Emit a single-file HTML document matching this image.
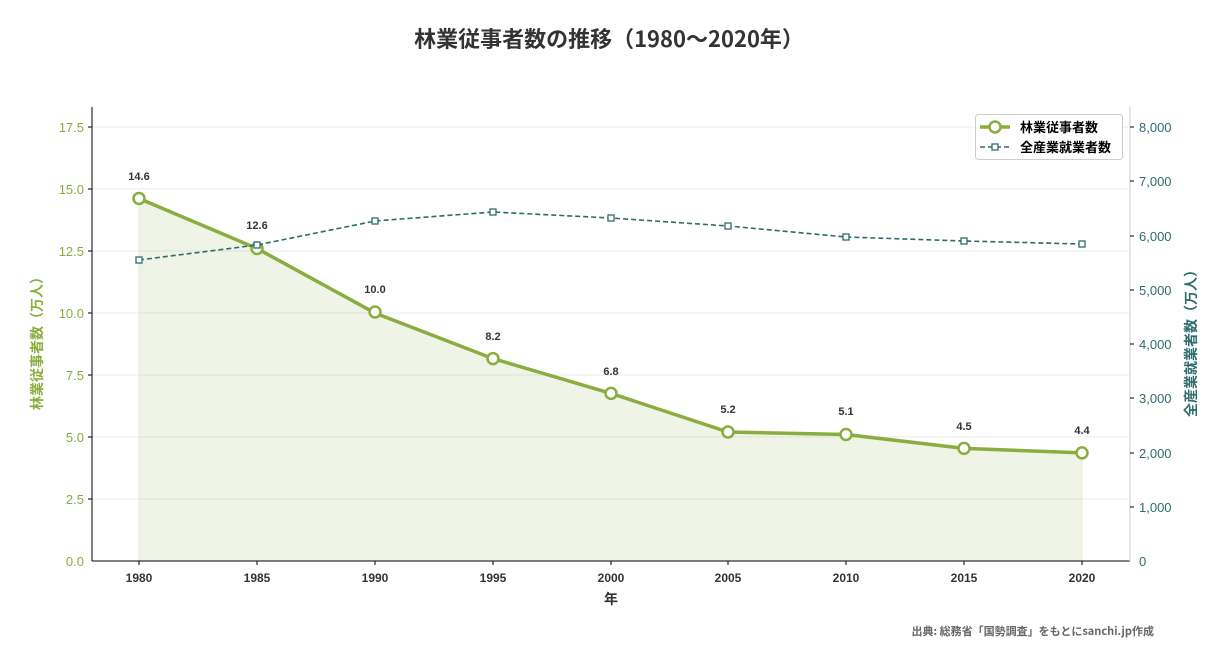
<!DOCTYPE html>
<html><head><meta charset="utf-8"><style>body{margin:0;background:#fff}svg{display:block}text{font-family:"Liberation Sans","Noto Sans CJK JP",sans-serif}.cj{font-family:"Noto Sans CJK JP",sans-serif}</style></head><body>
<svg width="1230" height="667" viewBox="0 0 1230 667" xmlns="http://www.w3.org/2000/svg">
<text class="cj" x="609" y="47" text-anchor="middle" font-size="22" font-weight="bold" fill="#333">林業従事者数の推移（1980〜2020年）</text>
<g stroke="#ebebeb" stroke-width="1">
<line x1="92" x2="1130" y1="127" y2="127"/><line x1="92" x2="1130" y1="189" y2="189"/><line x1="92" x2="1130" y1="251" y2="251"/><line x1="92" x2="1130" y1="313" y2="313"/><line x1="92" x2="1130" y1="375" y2="375"/><line x1="92" x2="1130" y1="437" y2="437"/><line x1="92" x2="1130" y1="499" y2="499"/>
</g>
<polygon fill="#8aad3f" fill-opacity="0.13" points="139,561 139,198.5 257,248.5 375,313 493,358.6 611,393.4 728,432 846,434.5 964,448.4 1082,452.9 1082,561"/>
<line x1="139" y1="198" x2="139" y2="561" stroke="#e4ebd5"/>
<line x1="1082" y1="452" x2="1082" y2="561" stroke="#e4ebd5"/>
<polyline fill="none" stroke="#8aad3f" stroke-width="3.5" points="139,198.5 257,248.5 375,313 493,358.6 611,393.4 728,432 846,434.5 964,448.4 1082,452.9"/>
<g fill="#fff" stroke="#8aad3f" stroke-width="2.5">
<circle cx="139" cy="198.5" r="5.5"/><circle cx="257" cy="248.5" r="5.5"/><circle cx="375" cy="312" r="5.5"/><circle cx="493" cy="358.6" r="5.5"/><circle cx="611" cy="393.4" r="5.5"/><circle cx="728" cy="432" r="5.5"/><circle cx="846" cy="434.5" r="5.5"/><circle cx="964" cy="448.4" r="5.5"/><circle cx="1082" cy="452.9" r="5.5"/>
</g>
<polyline fill="none" stroke="#2e6b6b" stroke-width="1.6" stroke-dasharray="5,3" points="139,260 257,245 375,221 493,212 611,218 728,226 846,237 964,241 1082,244"/>
<g fill="#fff" stroke="#2e6b6b" stroke-width="1.3">
<rect x="136" y="257" width="6" height="6"/><rect x="254" y="242" width="6" height="6"/><rect x="372" y="218" width="6" height="6"/><rect x="490" y="209" width="6" height="6"/><rect x="608" y="215" width="6" height="6"/><rect x="725" y="223" width="6" height="6"/><rect x="843" y="234" width="6" height="6"/><rect x="961" y="238" width="6" height="6"/><rect x="1079" y="241" width="6" height="6"/>
</g>
<g class="cj" font-size="11" font-weight="bold" fill="#333" text-anchor="middle">
<text x="139" y="180">14.6</text><text x="257" y="229">12.6</text><text x="375" y="293">10.0</text><text x="493" y="340">8.2</text><text x="611" y="375">6.8</text><text x="728" y="413">5.2</text><text x="846" y="415">5.1</text><text x="964" y="430">4.5</text><text x="1082" y="434">4.4</text>
</g>
<line x1="92" y1="107" x2="92" y2="561" stroke="#000"/>
<line x1="92" y1="561" x2="1130" y2="561" stroke="#000"/>
<line x1="1130" y1="107" x2="1130" y2="561" stroke="#ddd" stroke-width="1.5"/>
<g font-size="13" fill="#8aad3f" text-anchor="end">
<text x="84" y="132">17.5</text><text x="84" y="194">15.0</text><text x="84" y="256">12.5</text><text x="84" y="318">10.0</text><text x="84" y="380">7.5</text><text x="84" y="442">5.0</text><text x="84" y="504">2.5</text><text x="84" y="566">0.0</text>
</g>
<g stroke="#000"><line x1="88" x2="92" y1="127" y2="127"/><line x1="88" x2="92" y1="189" y2="189"/><line x1="88" x2="92" y1="251" y2="251"/><line x1="88" x2="92" y1="313" y2="313"/><line x1="88" x2="92" y1="375" y2="375"/><line x1="88" x2="92" y1="437" y2="437"/><line x1="88" x2="92" y1="499" y2="499"/>
<line x1="1130" x2="1134" y1="127" y2="127"/><line x1="1130" x2="1134" y1="181" y2="181"/><line x1="1130" x2="1134" y1="236" y2="236"/><line x1="1130" x2="1134" y1="290" y2="290"/><line x1="1130" x2="1134" y1="344" y2="344"/><line x1="1130" x2="1134" y1="398" y2="398"/><line x1="1130" x2="1134" y1="453" y2="453"/><line x1="1130" x2="1134" y1="507" y2="507"/>
<line x1="139" x2="139" y1="561" y2="565"/><line x1="257" x2="257" y1="561" y2="565"/><line x1="375" x2="375" y1="561" y2="565"/><line x1="493" x2="493" y1="561" y2="565"/><line x1="611" x2="611" y1="561" y2="565"/><line x1="728" x2="728" y1="561" y2="565"/><line x1="846" x2="846" y1="561" y2="565"/><line x1="964" x2="964" y1="561" y2="565"/><line x1="1082" x2="1082" y1="561" y2="565"/></g>
<g font-size="13" fill="#2e6b6b">
<text x="1139" y="132">8,000</text><text x="1139" y="186">7,000</text><text x="1139" y="241">6,000</text><text x="1139" y="295">5,000</text><text x="1139" y="349">4,000</text><text x="1139" y="403">3,000</text><text x="1139" y="458">2,000</text><text x="1139" y="512">1,000</text><text x="1139" y="566">0</text>
</g>
<g class="cj" font-size="12" font-weight="bold" fill="#333" text-anchor="middle">
<text x="139" y="582">1980</text><text x="257" y="582">1985</text><text x="375" y="582">1990</text><text x="493" y="582">1995</text><text x="611" y="582">2000</text><text x="728" y="582">2005</text><text x="846" y="582">2010</text><text x="964" y="582">2015</text><text x="1082" y="582">2020</text>
</g>
<text class="cj" x="611" y="604" font-size="14" font-weight="bold" fill="#333" text-anchor="middle">年</text>
<text class="cj" transform="translate(42,340) rotate(-90)" font-size="14" font-weight="bold" fill="#8aad3f" text-anchor="middle">林業従事者数（万人）</text>
<text class="cj" transform="translate(1196,340) rotate(-90)" font-size="14" font-weight="bold" fill="#2e6b6b" text-anchor="middle">全産業就業者数（万人）</text>
<rect x="975.5" y="114.5" width="147" height="45" rx="3" fill="#fff" stroke="#ccc"/>
<line x1="980" x2="1010" y1="127" y2="127" stroke="#8aad3f" stroke-width="3.5"/>
<circle cx="995" cy="127" r="5.5" fill="#fff" stroke="#8aad3f" stroke-width="2.5"/>
<line x1="980" x2="1010" y1="147" y2="147" stroke="#2e6b6b" stroke-width="1.6" stroke-dasharray="5,3"/>
<rect x="992" y="144" width="6" height="6" fill="#fff" stroke="#2e6b6b" stroke-width="1.3"/>
<text class="cj" x="1020" y="132" font-size="13" font-weight="bold" fill="#000">林業従事者数</text>
<text class="cj" x="1020" y="152" font-size="13" font-weight="bold" fill="#000">全産業就業者数</text>
<text class="cj" x="1154" y="635" font-size="11" font-weight="bold" fill="#666" text-anchor="end">出典: 総務省「国勢調査」をもとにsanchi.jp作成</text>
</svg>
</body></html>
